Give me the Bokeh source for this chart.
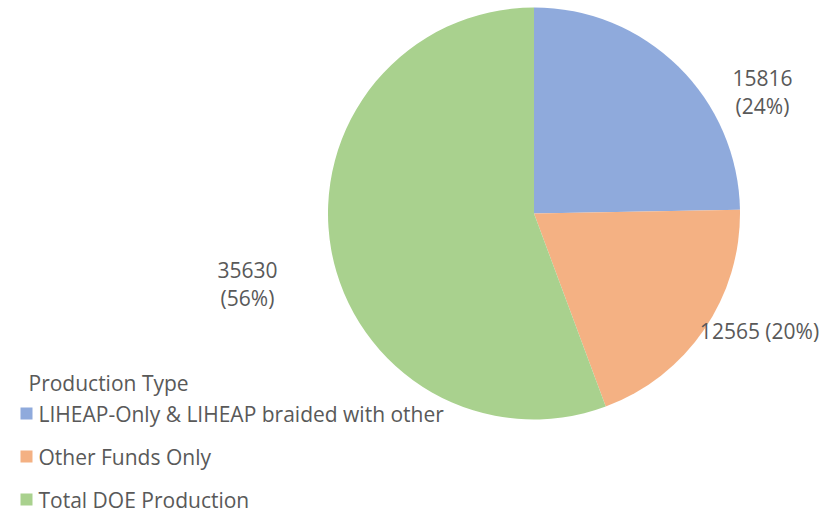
from bokeh.plotting import figure
from bokeh.models import ColumnDataSource, Range1d
from bokeh.core.properties import value
from bokeh.embed import file_html
from bokeh.resources import INLINE
import math

categories = ["LIHEAP-Only & LIHEAP braided with other", "Other Funds Only", "Total DOE Production"]
values = [15816, 12565, 35630]
pct_labels = ["24%", "20%", "56%"]
colors = ["#8FAADC", "#F4B183", "#A9D18E"]
legend_title = "Production Type"

W, H = 822, 514
FONT = value("Open Sans")
TXT = "#595959"

# pie geometry (screen-pixel units, y measured from the bottom)
cx, cy, r = 533.5, H - 213, 206

total = sum(values)
starts, ends = [], []
a = math.pi / 2
for v in values:
    starts.append(a)
    a -= v / total * 2 * math.pi
    ends.append(a)

p = figure(width=W, height=H, output_backend="svg", toolbar_location=None,
           x_range=Range1d(0, W), y_range=Range1d(0, H), min_border=0)
p.axis.visible = False
p.grid.visible = False
p.outline_line_color = None

src = ColumnDataSource(dict(start=starts, end=ends, color=colors, cat=categories))
p.wedge(x=cx, y=cy, radius=r, start_angle="start", end_angle="end",
        direction="clock", fill_color="color", line_color=None, source=src)

# data labels (best-fit placement, offsets from the pie centre)
label_offsets = [(228.5, 122), (225.5, -117), (-286.5, -70)]
multiline = [True, False, True]
lx, ly, lt = [], [], []
for v, pc, (dx, dy), ml in zip(values, pct_labels, label_offsets, multiline):
    txt = f"{v}\n({pc})" if ml else f"{v} ({pc})"
    lx.append(cx + dx)
    ly.append(cy + dy)
    lt.append(txt)
p.text(x=lx, y=ly, text=lt, text_font=FONT, text_font_size="21px",
       text_color=TXT, text_align="center", text_baseline="middle",
       text_line_height=1.0)

# legend
sq_x = 26
title_y = H - 382
p.text(x=[28], y=[title_y], text=[legend_title], text_font=FONT,
       text_font_size="21px", text_color=TXT, text_align="left", text_baseline="middle")
item_y = [H - 413 - i * 43 for i in range(len(categories))]
p.scatter(x=[sq_x] * len(categories), y=item_y, marker="square", size=12,
          fill_color=colors, line_color=None)
p.text(x=[sq_x + 12] * len(categories), y=item_y, text=categories, text_font=FONT,
       text_font_size="21px", text_color=TXT, text_align="left", text_baseline="middle")

open("out.html", "w").write(file_html(p, INLINE))
